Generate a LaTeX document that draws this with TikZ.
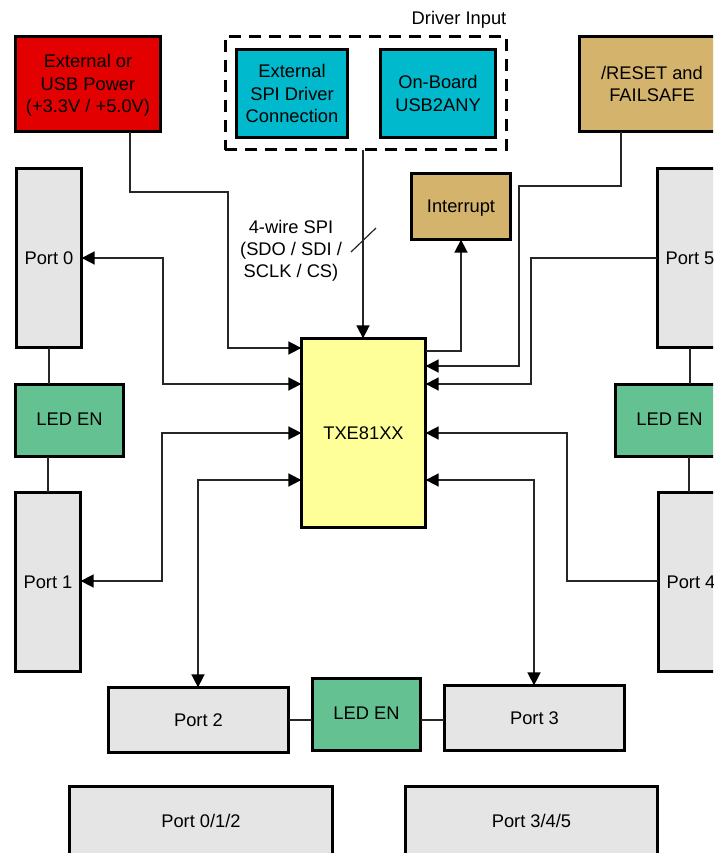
\documentclass[tikz,border=0pt]{standalone}
\usepackage{fontspec}
\setmainfont{Liberation Sans}
\usetikzlibrary{arrows.meta,calc}
\definecolor{cRed}{HTML}{E30000}
\definecolor{cTeal}{HTML}{00B9CC}
\definecolor{cTan}{HTML}{D4B36C}
\definecolor{cGreen}{HTML}{64C292}
\definecolor{cGray}{HTML}{E5E5E5}
\definecolor{cYellow}{HTML}{FFFF99}
\tikzset{
  x=1pt,y=-1pt,
  block/.style={draw=black,line width=3pt,line join=miter,outer sep=0pt,inner sep=0pt,align=center,
    text=black,font=\fontsize{18.3}{22.2}\selectfont},
  lbl/.style={inner sep=0pt,outer sep=0pt,align=center,text=black,font=\fontsize{18.3}{22.2}\selectfont},
  wire/.style={draw=black!85,line width=1.7pt},
  arrowed/.style={wire,-{Triangle[length=13pt,width=13pt,fill=black,color=black]}},
  both/.style={wire,{Triangle[length=13pt,width=13pt,fill=black,color=black]}-{Triangle[length=13pt,width=13pt,fill=black,color=black]}},
  thin wire/.style={draw=black!85,line width=1.2pt}
}
\newcommand{\blk}[7]{%
  \pgfmathsetmacro{\bw}{#5-#3-0.7}\pgfmathsetmacro{\bh}{#6-#4-0.7}%
  \pgfmathsetmacro{\cxx}{(#3+#5)/2}\pgfmathsetmacro{\cyy}{(#4+#6)/2}%
  \node[block,fill=#2,minimum width=\bw pt,minimum height=\bh pt] (#1) at (\cxx,\cyy) {#7};}
\begin{document}
\begin{tikzpicture}
\clip (0,0) rectangle (713,853);
\fill[white] (0,0) rectangle (713,853);
% blocks
\blk{pwr}{cRed}{15}{36}{161}{132}{\rule{0pt}{16pt}External or\\USB Power\\(+3.3V / +5.0V)}
\blk{ext}{cTeal}{236}{49}{348}{138}{External\\SPI Driver\\Connection}
\blk{usb}{cTeal}{380}{49}{496}{138}{On-Board\\USB2ANY}
\blk{int}{cTan}{411}{173}{511}{240}{\rule{0pt}{16pt}Interrupt}
\blk{rst}{cTan}{579}{36}{725}{132}{/RESET and\\FAILSAFE}
\blk{pa}{cGray}{16}{168}{82}{348}{Port 0}
\blk{la}{cGreen}{15}{384}{124}{457}{\raisebox{2pt}{LED EN}}
\blk{pb}{cGray}{15}{492}{81}{672}{Port 1}
\blk{pf}{cGray}{657}{168}{723}{348}{Port 5}
\blk{lb}{cGreen}{615}{384}{724}{457}{\raisebox{2pt}{LED EN}}
\blk{pe}{cGray}{658}{492}{724}{672}{Port 4}
\blk{pc}{cGray}{108}{687}{289}{753}{Port 2}
\blk{lc}{cGreen}{312}{678}{421}{751}{\raisebox{2pt}{LED EN}}
\blk{pd}{cGray}{444}{685}{625}{751}{Port 3}
\blk{pg}{cGray}{69}{786}{333}{855}{Port 0/1/2}
\blk{ph}{cGray}{405}{786}{658}{855}{Port 3/4/5}
\blk{chip}{cYellow}{301}{338}{426}{528}{TXE81XX}
% dashed group
\node[draw=black,line width=3pt,dash pattern=on 12pt off 8pt,minimum width=281.3pt,minimum height=113.3pt,outer sep=0pt,inner sep=0pt] (grp) at (366,93) {};
\node[lbl] (ginp) at (459,19.5) {Driver Input};
\node[lbl] (spi) at (291,250.5) {4-wire SPI\\(SDO / SDI /\\SCLK / CS)};
% connectors
\draw[arrowed] (pwr.south -| 130,0) -- (130,192) -- (228,192) -- (228,348) -- (chip.west |- 0,348);
\draw[arrowed] (grp.south -| 363,0) -- (chip.north -| 363,0);
\coordinate (sa) at (351,252);
\coordinate (sb) at (376,228);
\draw[thin wire] (sa) -- (sb);
\draw[arrowed] (chip.east |- 0,351) -- (461,351) -- (int.south -| 461,0);
\draw[arrowed] (rst.south -| 621,0) -- (621,186) -- (519,186) -- (519,366) -- (chip.east |- 0,366);
\draw[arrowed] (pf.west |- 0,258) -- (531,258) -- (531,384) -- (chip.east |- 0,384);
\draw[both] (pa.east |- 0,258) -- (163,258) -- (163,384) -- (chip.west |- 0,384);
\draw[both] (pb.east |- 0,581) -- (162,581) -- (162,433) -- (chip.west |- 0,433);
\draw[both] (pc.north -| 198,0) -- (198,480) -- (chip.west |- 0,480);
\draw[both] (pd.north -| 534,0) -- (534,480) -- (chip.east |- 0,480);
\draw[arrowed] (pe.west |- 0,581) -- (567,581) -- (567,433) -- (chip.east |- 0,433);
\draw[wire] (pa.south -| 49,0) -- (la.north -| 49,0);
\draw[wire] (la.south -| 48,0) -- (pb.north -| 48,0);
\draw[wire] (pf.south -| 690,0) -- (lb.north -| 690,0);
\draw[wire] (lb.south -| 689,0) -- (pe.north -| 689,0);
\draw[wire] (pc.east |- 0,720) -- (lc.west |- 0,720);
\draw[wire] (lc.east |- 0,720) -- (pd.west |- 0,720);
\end{tikzpicture}
\end{document}
